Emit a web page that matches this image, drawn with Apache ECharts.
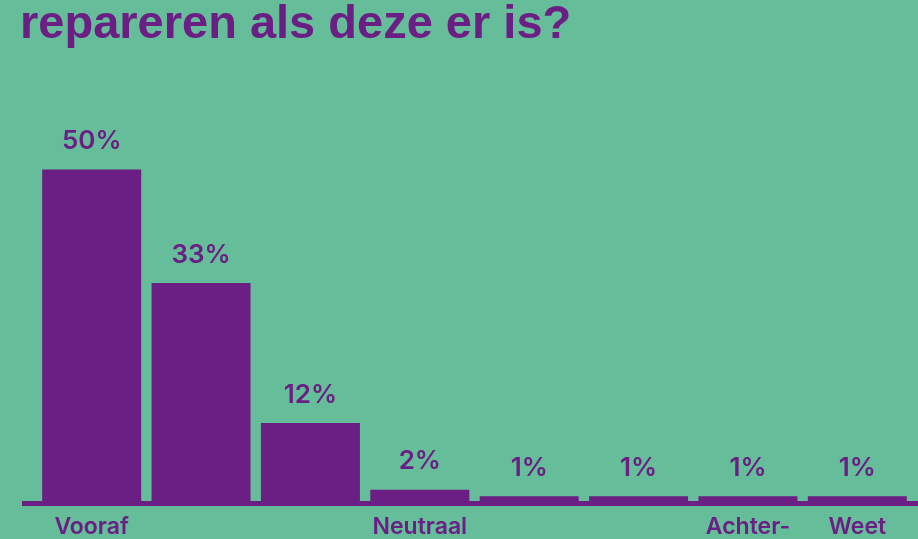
<!DOCTYPE html>
<html>
<head>
<meta charset="utf-8">
<script src="https://cdn.jsdelivr.net/npm/echarts@6/dist/echarts.min.js"></script>
<style>
  html, body { margin: 0; padding: 0; background: #66bd9a; }
  #chart { width: 918px; height: 539px; }
</style>
</head>
<body>
<div id="chart"></div>
<script>
// data
const titleText = 'repareren als deze er is?';
const categories = ['Vooraf', '', '', 'Neutraal', '', '', 'Achter-', 'Weet'];
const values = [50, 33, 12, 2, 1, 1, 1, 1];

const purple = '#6b1e84';
const green = '#66bd9a';

let myChart = echarts.init(document.getElementById('chart'));
myChart.setOption({
  backgroundColor: green,
  animation: false,
  title: {
    text: titleText,
    left: 15,
    top: -3,
    textStyle: {
      color: purple,
      fontFamily: 'Liberation Sans',
      fontWeight: 'bold',
      fontSize: 47,
      lineHeight: 47
    }
  },
  grid: [
    { left: 37, right: 6, top: 169.5, bottom: 36, outerBoundsMode: 'none' },
    // only used for the long baseline under the bars
    { left: 22, right: 0, top: 169.5, bottom: 36, outerBoundsMode: 'none' }
  ],
  xAxis: [
    {
      type: 'category',
      gridIndex: 0,
      data: categories,
      axisLine: { show: false },
      axisTick: { show: false },
      axisLabel: {
        interval: 0,
        margin: 13,
        color: purple,
        fontFamily: 'Inter',
        fontWeight: 600,
        fontSize: 23
      }
    },
    {
      type: 'value',
      gridIndex: 1,
      min: 0,
      max: 1,
      axisLine: { show: true, lineStyle: { color: purple, width: 5, cap: 'butt' } },
      axisTick: { show: false },
      axisLabel: { show: false },
      splitLine: { show: false }
    }
  ],
  yAxis: [
    { type: 'value', gridIndex: 0, min: 0, max: 50, show: false },
    { type: 'value', gridIndex: 1, min: 0, max: 1, show: false }
  ],
  series: [{
    type: 'bar',
    xAxisIndex: 0,
    yAxisIndex: 0,
    data: values,
    barWidth: 99,
    itemStyle: { color: purple },
    label: {
      show: true,
      position: 'top',
      distance: 15,
      formatter: '{c}%',
      color: purple,
      fontFamily: 'Inter',
      fontWeight: 600,
      fontSize: 26
    }
  }]
});
</script>
</body>
</html>
